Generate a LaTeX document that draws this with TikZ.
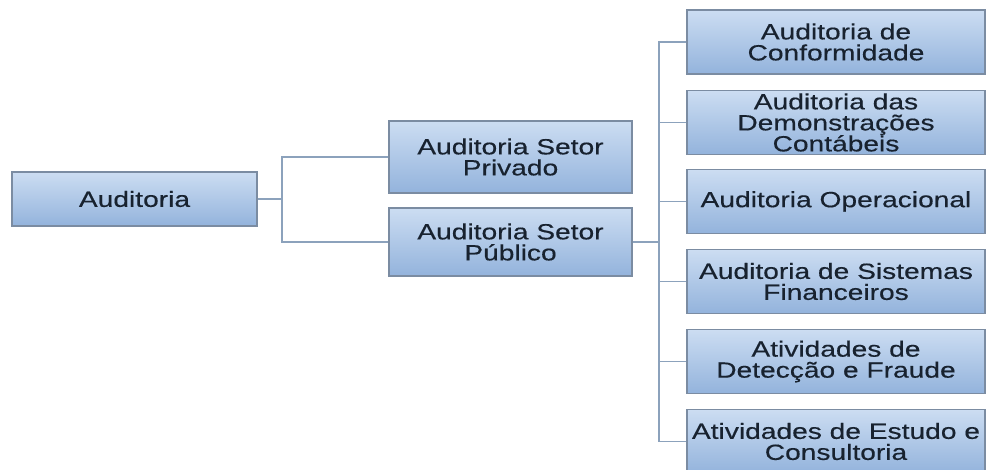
\documentclass[tikz,border=0pt]{standalone}
\usepackage{fontspec}
\setmainfont{Liberation Sans}[FakeStretch=1.28,FakeBold=0.4]
\definecolor{boxtop}{HTML}{CCDDF2}
\definecolor{boxbot}{HTML}{93B3DC}
\definecolor{boxline}{HTML}{7B8CA2}
\definecolor{lineclr}{HTML}{8CA2BC}
\definecolor{txt}{HTML}{18222F}
\begin{document}
\begin{tikzpicture}[x=1pt,y=1pt,
  box/.style={draw=boxline, line width=1.2pt, top color=boxtop, bottom color=boxbot,
    text=txt, font=\fontsize{22}{21}\selectfont, align=center, inner sep=0pt, anchor=center},
  conn/.style={draw=lineclr, line width=1.4pt}]
\useasboundingbox (0,0) rectangle (986,-470);
\fill[white] (0,0) rectangle (986,-470);
% level 0
\node[box, minimum width=245pt, minimum height=54pt] (aud) at (134.5,-199) {Auditoria};
% level 1
\node[box, minimum width=243pt, minimum height=72pt] (priv) at (510.5,-157) {Auditoria Setor\\Privado};
\node[box, minimum width=243pt, minimum height=68pt] (pub) at (510.5,-242) {Auditoria Setor\\Público};
% level 2
\node[box, minimum width=298pt, minimum height=64pt] (r1) at (836,-42) {Auditoria de\\Conformidade};
\node[box, minimum width=298pt, minimum height=64pt] (r2) at (836,-122.5) {Auditoria das\\Demonstrações\\Contábeis};
\node[box, minimum width=298pt, minimum height=64pt] (r3) at (836,-201.5) {Auditoria Operacional};
\node[box, minimum width=298pt, minimum height=64pt] (r4) at (836,-281.5) {Auditoria de Sistemas\\Financeiros};
\node[box, minimum width=298pt, minimum height=64pt] (r5) at (836,-361.5) {Atividades de\\Detecção e Fraude};
\node[box, minimum width=298pt, minimum height=64pt] (r6) at (836,-441.5) {Atividades de Estudo e\\Consultoria};
% connectors
\coordinate (jl) at (282,-199);
\coordinate (jr) at (659,-242);
\draw[conn] (aud.east) -- (jl);
\draw[conn] (priv.west) -| (jl);
\draw[conn] (pub.west) -| (jl);
\draw[conn] (pub.east) -- (jr);
\foreach \n in {r1,r2,r3,r4,r5,r6}{\draw[conn] (\n.west) -| (jr);}
\end{tikzpicture}
\end{document}
